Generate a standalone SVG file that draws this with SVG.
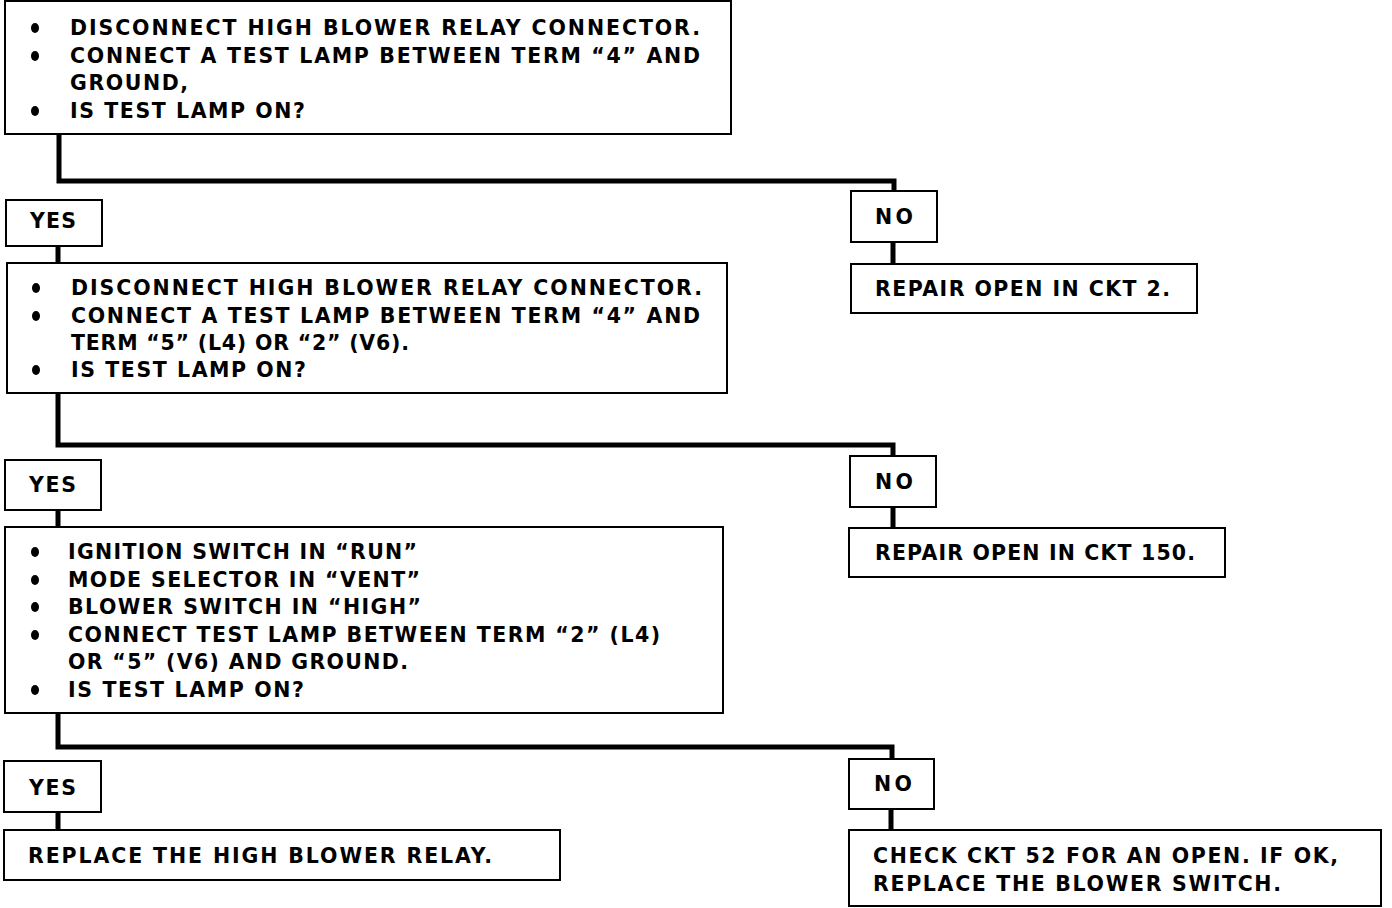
<svg xmlns="http://www.w3.org/2000/svg" width="1392" height="908" viewBox="0 0 1392 908">
<style>
.box{fill:#fff;stroke:#000;stroke-width:2}
.t{font-family:"DejaVu Sans","Liberation Sans",Arial,sans-serif;font-size:20.5px;font-weight:bold;fill:#000}
.c{fill:none;stroke:#000;stroke-width:5;stroke-linejoin:miter}
.b{fill:#000}
</style>
<rect width="1392" height="908" fill="#fff"/>
<g id="connectors">
<path class="c" d="M59,134 V181 H894 V191"/>
<path class="c" d="M58,246 V263"/>
<path class="c" d="M893,242 V264"/>
<path class="c" d="M58,393 V445 H893 V456"/>
<path class="c" d="M58,510 V527"/>
<path class="c" d="M893,507 V528"/>
<path class="c" d="M58,713 V747 H892 V759"/>
<path class="c" d="M58,812 V830"/>
<path class="c" d="M891,809 V830"/>
</g>
<g id="step1">
<rect class="box" x="5" y="1" width="726" height="133"/>
<ellipse class="b" cx="35" cy="28" rx="4" ry="5"/><ellipse class="b" cx="35" cy="56" rx="4" ry="5"/><ellipse class="b" cx="35" cy="111" rx="4" ry="5"/>
<text class="t" x="70" y="35" textLength="630" lengthAdjust="spacing">DISCONNECT HIGH BLOWER RELAY CONNECTOR.</text>
<text class="t" x="70" y="63" textLength="630" lengthAdjust="spacing">CONNECT A TEST LAMP BETWEEN TERM “4” AND</text>
<text class="t" x="70" y="90" textLength="118" lengthAdjust="spacing">GROUND,</text>
<text class="t" x="70" y="118" textLength="235" lengthAdjust="spacing">IS TEST LAMP ON?</text>
</g>
<g id="yes1">
<rect class="box" x="6" y="200" width="96" height="46"/>
<text class="t" x="30" y="228" textLength="46" lengthAdjust="spacing">YES</text>
</g>
<g id="no1">
<rect class="box" x="851" y="191" width="86" height="51"/>
<text class="t" x="875" y="224" textLength="38" lengthAdjust="spacing">NO</text>
</g>
<g id="repair2">
<rect class="box" x="851" y="264" width="346" height="49"/>
<text class="t" x="875" y="296" textLength="295" lengthAdjust="spacing">REPAIR OPEN IN CKT 2.</text>
</g>
<g id="step2">
<rect class="box" x="7" y="263" width="720" height="130"/>
<ellipse class="b" cx="36" cy="288" rx="4" ry="5"/><ellipse class="b" cx="36" cy="316" rx="4" ry="5"/><ellipse class="b" cx="36" cy="370" rx="4" ry="5"/>
<text class="t" x="71" y="295" textLength="631" lengthAdjust="spacing">DISCONNECT HIGH BLOWER RELAY CONNECTOR.</text>
<text class="t" x="71" y="323" textLength="629" lengthAdjust="spacing">CONNECT A TEST LAMP BETWEEN TERM “4” AND</text>
<text class="t" x="71" y="350" textLength="338" lengthAdjust="spacing">TERM “5” (L4) OR “2” (V6).</text>
<text class="t" x="71" y="377" textLength="235" lengthAdjust="spacing">IS TEST LAMP ON?</text>
</g>
<g id="yes2">
<rect class="box" x="5" y="460" width="96" height="50"/>
<text class="t" x="29" y="492" textLength="47" lengthAdjust="spacing">YES</text>
</g>
<g id="no2">
<rect class="box" x="850" y="456" width="86" height="51"/>
<text class="t" x="875" y="489" textLength="38" lengthAdjust="spacing">NO</text>
</g>
<g id="repair150">
<rect class="box" x="849" y="528" width="376" height="49"/>
<text class="t" x="875" y="560" textLength="320" lengthAdjust="spacing">REPAIR OPEN IN CKT 150.</text>
</g>
<g id="step3">
<rect class="box" x="5" y="527" width="718" height="186"/>
<ellipse class="b" cx="35" cy="552" rx="4" ry="5"/><ellipse class="b" cx="35" cy="580" rx="4" ry="5"/><ellipse class="b" cx="35" cy="607" rx="4" ry="5"/><ellipse class="b" cx="35" cy="635" rx="4" ry="5"/><ellipse class="b" cx="35" cy="690" rx="4" ry="5"/>
<text class="t" x="68" y="559" textLength="349" lengthAdjust="spacing">IGNITION SWITCH IN “RUN”</text>
<text class="t" x="68" y="587" textLength="352" lengthAdjust="spacing">MODE SELECTOR IN “VENT”</text>
<text class="t" x="68" y="614" textLength="353" lengthAdjust="spacing">BLOWER SWITCH IN “HIGH”</text>
<text class="t" x="68" y="642" textLength="592" lengthAdjust="spacing">CONNECT TEST LAMP BETWEEN TERM “2” (L4)</text>
<text class="t" x="68" y="669" textLength="340" lengthAdjust="spacing">OR “5” (V6) AND GROUND.</text>
<text class="t" x="68" y="697" textLength="236" lengthAdjust="spacing">IS TEST LAMP ON?</text>
</g>
<g id="yes3">
<rect class="box" x="4" y="761" width="97" height="51"/>
<text class="t" x="29" y="795" textLength="47" lengthAdjust="spacing">YES</text>
</g>
<g id="no3">
<rect class="box" x="849" y="759" width="85" height="50"/>
<text class="t" x="874" y="791" textLength="38" lengthAdjust="spacing">NO</text>
</g>
<g id="replace-relay">
<rect class="box" x="4" y="830" width="556" height="50"/>
<text class="t" x="28" y="863" textLength="464" lengthAdjust="spacing">REPLACE THE HIGH BLOWER RELAY.</text>
</g>
<g id="check52">
<rect class="box" x="849" y="830" width="532" height="76"/>
<text class="t" x="873" y="863" textLength="465" lengthAdjust="spacing">CHECK CKT 52 FOR AN OPEN. IF OK,</text>
<text class="t" x="873" y="891" textLength="408" lengthAdjust="spacing">REPLACE THE BLOWER SWITCH.</text>
</g>
</svg>
